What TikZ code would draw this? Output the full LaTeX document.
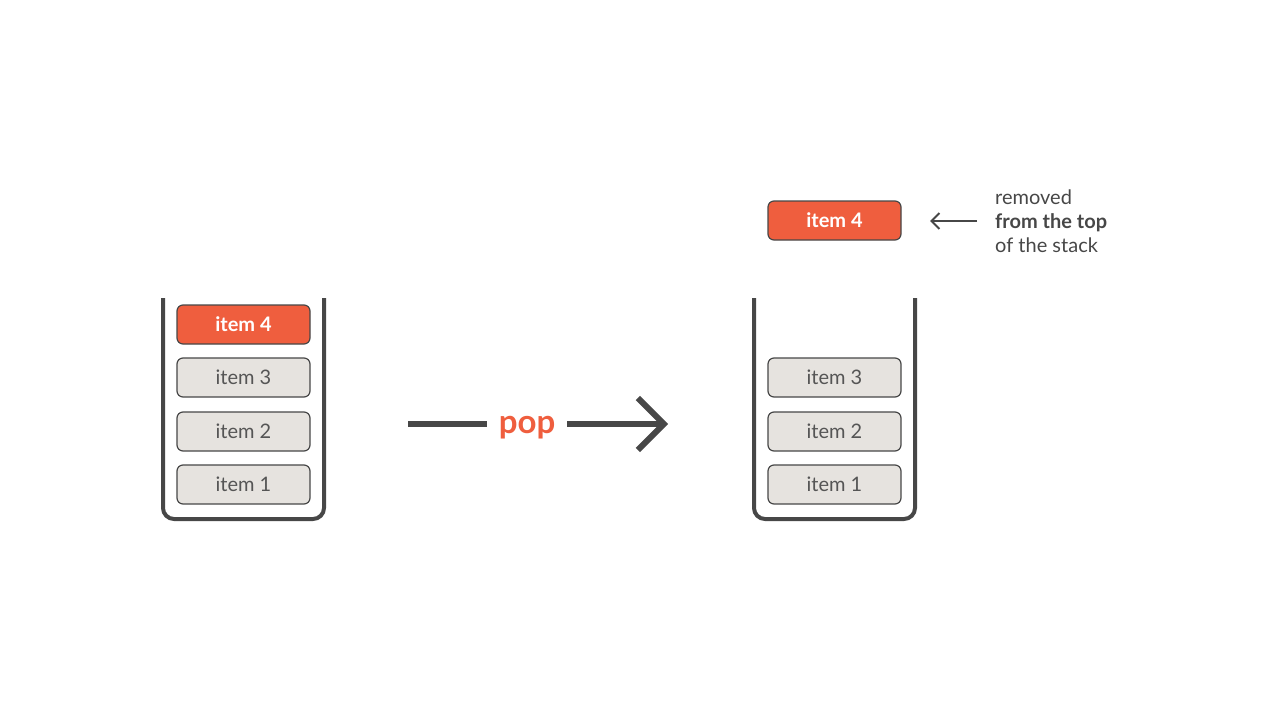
\documentclass[tikz,border=0pt]{standalone}
\usepackage{fontspec}
\setmainfont{Lato}
\usetikzlibrary{arrows.meta}

\definecolor{popred}{HTML}{EF5E3E}
\definecolor{boxgray}{HTML}{E6E3DF}
\definecolor{linegray}{HTML}{474747}
\definecolor{textgray}{HTML}{555555}

\tikzset{
    item/.style={draw=linegray, line width=1.2pt, rounded corners=6pt,
        minimum width=133pt, minimum height=39pt, inner sep=0pt,
        fill=boxgray, text=textgray, font=\fontsize{20}{24}\selectfont},
    topitem/.style={item, fill=popred, text=white, font=\fontsize{20}{24}\selectfont\bfseries},
    stackwall/.style={draw=linegray, line width=4pt, rounded corners=11pt}
}

\begin{document}
\begin{tikzpicture}[x=1pt, y=-1pt]
    \useasboundingbox (0,0) rectangle (1280,720);

    % Stapel links (vor pop)
    \draw[stackwall] (163,298) -- (163,519) -- (324,519) -- (324,298);
    \node[topitem] (l4) at (243.5,324.5) {item 4};
    \node[item] (l3) at (243.5,377.5) {item 3};
    \node[item] (l2) at (243.5,431.5) {item 2};
    \node[item] (l1) at (243.5,484.5) {item 1};

    % Pfeil mit pop
    \coordinate (popstart) at (408,424);
    \coordinate (popend) at (668,424);
    \node[text=popred, font=\fontsize{33}{38}\selectfont\bfseries, inner sep=0pt] (pop) at (527,428) {pop};
    \draw[linegray, line width=6pt] (popstart) -- ([xshift=-12pt]pop.west |- popstart);
    \draw[linegray, line width=6pt, -{Straight Barb[length=26pt, width=52pt]}]
        ([xshift=12pt]pop.east |- popstart) -- (popend);

    % Stapel rechts (nach pop)
    \draw[stackwall] (754,298) -- (754,519) -- (915,519) -- (915,298);
    \node[item] (r3) at (834.5,377.5) {item 3};
    \node[item] (r2) at (834.5,431.5) {item 2};
    \node[item] (r1) at (834.5,484.5) {item 1};

    % entferntes Element
    \node[topitem] (r4) at (834.5,220.5) {item 4};

    % Hinweis
    \node[anchor=west, align=left, text=linegray, inner sep=0pt,
        font=\fontsize{20}{24}\selectfont] (note) at (995,221)
        {removed\\\textbf{from the top}\\of the stack};
    \draw[linegray, line width=2pt, -{Straight Barb[length=8pt, width=16pt]}]
        ([xshift=-18pt]note.west) -- ([xshift=-65pt]note.west);
\end{tikzpicture}
\end{document}
